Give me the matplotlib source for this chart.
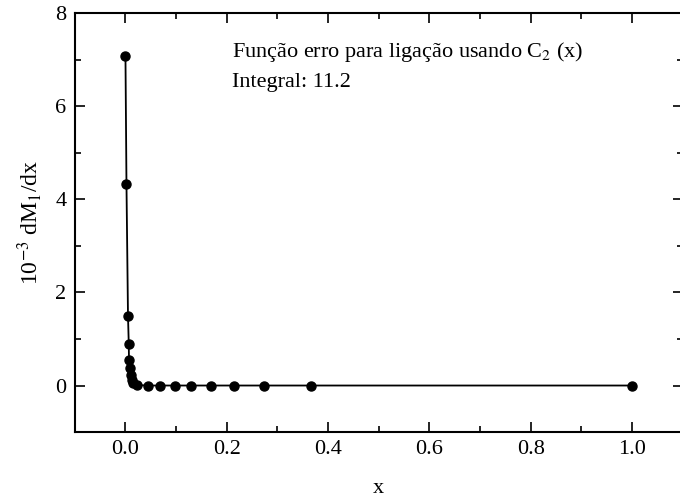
# Função erro para ligação usando C2(x) - dM1/dx contra x
import numpy as np
import matplotlib.pyplot as plt
from matplotlib.ticker import MultipleLocator

plt.rcParams['font.family'] = ['Liberation Serif', 'DejaVu Serif']
plt.rcParams['mathtext.fontset'] = 'stix'

# valores
x = [0.0, 0.002, 0.005, 0.0065, 0.007, 0.0085, 0.010, 0.012, 0.015, 0.022,
     0.045, 0.069, 0.097, 0.13, 0.169, 0.215, 0.274, 0.366, 1.0]
dM1dx = [7.08, 4.32, 1.50, 0.90, 0.54, 0.37, 0.22, 0.11, 0.05, 0.01,
         0.0, 0.0, 0.0, 0.0, 0.0, 0.0, 0.0, 0.0, 0.0]

fig = plt.figure(figsize=(6.8, 5.03), dpi=100)
ax = fig.add_axes([0.110, 0.141, 0.894, 0.833])

ax.plot(x, dM1dx, color='black', lw=1.3, marker='o', ms=6.5)

ax.set_xlim(-0.1, 1.1)
ax.set_ylim(-1, 8)
ax.xaxis.set_major_locator(MultipleLocator(0.2))
ax.xaxis.set_minor_locator(MultipleLocator(0.1))
ax.yaxis.set_major_locator(MultipleLocator(2))
ax.yaxis.set_minor_locator(MultipleLocator(1))
ax.set_xticks(np.arange(0, 1.01, 0.2))
ax.set_xticklabels(['0.0', '0.2', '0.4', '0.6', '0.8', '1.0'])
ax.tick_params(which='both', direction='in', top=True, right=True, labelsize=16, width=1.2)
ax.tick_params(which='major', length=7, pad=6)
ax.tick_params(which='minor', length=4)
for s in ax.spines.values():
    s.set_linewidth(1.5)

ax.set_xlabel('x', fontsize=16, labelpad=14)
ax.set_ylabel(r'10$^{-3}$ dM$_1$/dx', fontsize=17, labelpad=8)

ax.text(0.21, 7.05, r'Função erro para ligação usando C$_2$ (x)', fontsize=16, va='baseline')
ax.text(0.21, 6.41, 'Integral: 11.2', fontsize=16, va='baseline')

plt.savefig('out.png', dpi=100)
